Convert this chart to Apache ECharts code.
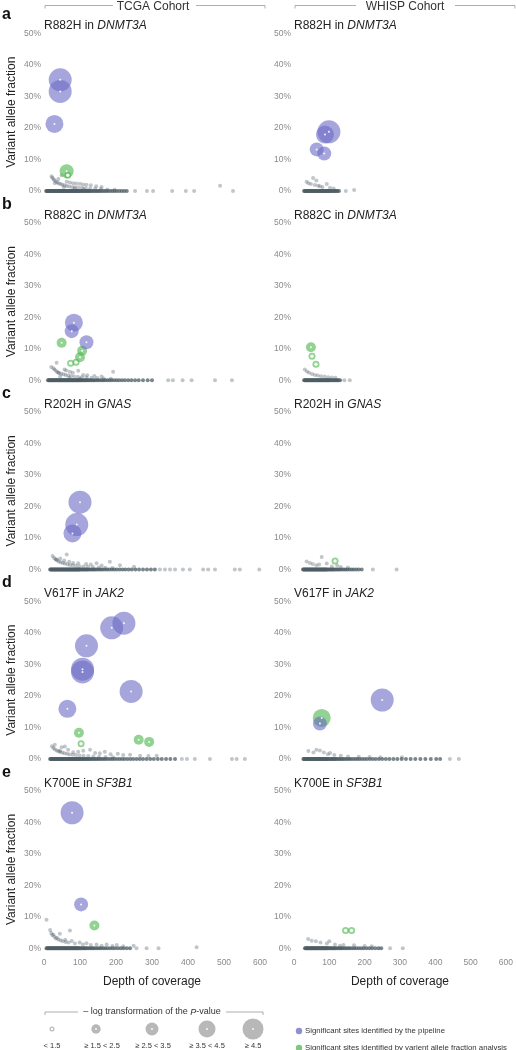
<!DOCTYPE html>
<html><head><meta charset="utf-8">
<script src="https://cdn.jsdelivr.net/npm/echarts@6/dist/echarts.min.js"></script>
<style>html,body{margin:0;padding:0;background:#fff}#c{width:516px;height:1050px}</style>
</head><body><div id="c"></div>
<script>
// ---- data: [depth, VAF %] ; bubbles: [depth, VAF %, p-value class 1..5]
const cohorts = ["TCGA Cohort", "WHISP Cohort"];
const panelLetters = ["a", "b", "c", "d", "e"];
const mutations = ["R882H", "R882C", "R202H", "V617F", "K700E"];
const genes = ["DNMT3A", "DNMT3A", "GNAS", "JAK2", "SF3B1"];
const xTicks = [0, 100, 200, 300, 400, 500, 600];
const pClassLabels = ["< 1.5", "≥ 1.5 < 2.5", "≥ 2.5 < 3.5", "≥ 3.5 < 4.5", "≥ 4.5"];

// TCGA a
const tA_zero = [6,8,10,12,14,16,18,20,22,24,26,28,30,32,34,36,38,40,42,44,46,48,50,52,54,56,58,60,62,64,66,68,70,72,74,76,78,80,82,84,86,88,90,92,94,96,98,100,103,106,109,112,115,118,121,124,127,130,134,138,142,146,150,154,158,163,168,173,178,184,190,196,202,209,216,223,230];
const tA_low = [[253,0],[286,0],[303,0],[356,0],[394,0],[417,0],[525,0],[21,4.7],[23,4.2],[26,3.8],[29,3.4],[33,3.0],[37,2.7],[41,2.4],[46,2.2],[51,2.0],[57,1.8],[63,1.6],[70,1.4],[78,1.3],[86,1.2],[95,1.1],[105,1.0],[116,0.9],[128,0.8],[142,0.7],[158,0.6],[176,0.5],[196,0.4],[49,5.0],[40,3.8],[63,2.9],[72,2.7],[81,2.5],[90,2.4],[100,2.3],[109,2.1],[118,2.0],[130,1.8],[145,1.5],[160,1.3],[489,1.7],[30,2.5],[55,1.2],[85,0.8],[110,0.6]];
const tA_pipe = [[45,35.3,5],[45,31.6,5],[29,21.3,4]];
const tA_vaf = [[63,6.3,3],[66,5.0,1]];
// TCGA b
const tB_zero = [11,13,15,17,19,21,23,25,27,29,31,33,35,37,39,41,43,45,47,49,51,53,55,57,59,61,63,65,67,69,71,73,75,77,79,81,83,85,87,89,91,93,95,97,99,101,104,107,110,113,116,119,122,125,129,133,137,141,145,150,155,160,165,170,176,182,188,195,202,209,217,225,234,243,253,263,275,288,300];
const tB_low = [[345,0],[358,0],[385,0],[410,0],[475,0],[522,0],[20,4.2],[26,3.8],[29,3.4],[33,3.0],[37,2.6],[42,2.3],[48,2.1],[54,1.9],[60,1.7],[67,1.5],[75,1.4],[84,1.2],[94,1.1],[105,1.0],[118,0.9],[132,0.8],[148,0.7],[166,0.6],[186,0.5],[35,5.6],[40,2.4],[57,3.4],[72,2.7],[95,3.0],[109,1.7],[192,2.7],[62,3.1],[80,2.4],[120,1.6],[140,1.4],[160,1.2],[45,1.2],[70,0.8],[100,0.6]];
const tB_pipe = [[83,18.3,4],[77,15.6,3],[118,12.1,3]];
const tB_vaf = [[49,11.9,2],[106,9.4,2],[100,7.3,2],[89,5.7,1],[74,5.4,1]];
// TCGA c
const tC_zero = [17,19,21,23,25,27,29,31,33,35,37,39,41,43,45,47,49,51,53,55,57,59,61,63,65,67,69,71,73,75,77,79,81,83,85,87,89,91,93,95,97,99,102,105,108,111,114,117,120,123,127,131,135,139,143,148,153,158,163,169,175,181,188,195,202,210,218,226,235,244,254,264,275,286,297,308];
const tC_low = [[322,0],[336,0],[350,0],[364,0],[386,0],[405,0],[442,0],[456,0],[475,0],[530,0],[544,0],[598,0],[24,4.3],[28,3.7],[32,3.3],[36,3.0],[41,2.6],[46,2.3],[52,2.1],[58,1.9],[65,1.7],[72,1.5],[80,1.4],[89,1.2],[99,1.1],[110,1.0],[122,0.9],[136,0.8],[152,0.7],[170,0.6],[190,0.5],[63,4.8],[35,3.2],[56,2.9],[81,2.1],[117,1.8],[146,2.0],[183,2.5],[211,1.4],[45,3.5],[70,2.5],[95,2.0],[130,1.6],[160,1.3],[250,0.9]];
const tC_pipe = [[100,21.4,5],[91,14.3,5],[79,11.5,4]];
const tC_vaf = [];
// TCGA d
const tD_zero = [17,19,21,23,25,27,29,31,33,35,37,39,41,43,45,47,49,51,53,55,57,59,61,63,65,67,69,71,73,75,77,79,81,83,85,87,89,91,93,95,97,99,101,104,107,110,113,116,119,122,125,128,132,136,140,144,148,152,157,162,167,172,178,184,190,196,203,210,217,224,232,240,248,257,266,275,285,295,305,316,327,339,351,364];
const tD_low = [[383,0],[397,0],[419,0],[461,0],[522,0],[535,0],[558,0],[22,4.0],[26,3.5],[30,3.1],[35,2.7],[40,2.4],[45,2.2],[51,2.0],[57,1.8],[64,1.6],[71,1.4],[80,1.3],[89,1.2],[99,1.1],[110,1.0],[123,0.9],[137,0.8],[153,0.7],[171,0.6],[192,0.5],[49,3.7],[67,2.9],[81,2.1],[109,2.6],[128,2.9],[142,1.9],[169,2.3],[205,1.6],[239,1.3],[267,1.0],[313,1.0],[58,3.9],[44,2.6],[30,4.5],[95,2.3],[155,1.8],[185,1.5],[220,1.2],[290,0.9]];
const tD_pipe = [[65,15.9,4],[107,28.5,5],[107,27.6,5],[118,35.9,5],[188,41.6,5],[222,43.1,5],[242,21.4,5]];
const tD_vaf = [[97,8.3,2],[103,4.8,1],[263,6.1,2],[292,5.4,2]];
// TCGA e
const tE_zero = [7,9,11,13,15,17,19,21,23,25,27,29,31,33,35,37,39,41,43,45,47,49,51,53,55,57,59,61,63,65,67,69,71,73,75,77,79,81,83,85,87,89,91,93,95,97,100,103,106,109,112,115,118,122,126,130,134,138,143,148,153,158,164,170,176,183,190,197,205,213,221,230,239];
const tE_low = [[257,0],[285,0],[318,0],[424,0.3],[7,9.0],[17,5.8],[72,5.6],[44,4.6],[26,4.3],[36,3.3],[59,2.7],[77,2.3],[99,1.8],[118,1.6],[146,1.2],[174,1.2],[202,1.0],[249,0.8],[20,4.8],[23,4.2],[29,3.6],[33,3.1],[40,2.8],[46,2.5],[52,2.2],[60,2.0],[68,1.8],[86,1.5],[108,1.2],[130,1.0],[160,0.8],[190,0.7],[220,0.6]];
const tE_pipe = [[78,43.0,5],[103,13.9,3]];
const tE_vaf = [[140,7.2,2]];
// WHISP a
const wA_zero = [28,30,32,34,36,38,40,42,44,46,48,50,52,54,56,58,60,62,64,66,68,70,72,74,76,78,80,82,84,86,88,90,92,94,96,98,100,103,106,109,112,115,118,121,125];
const wA_low = [[144,0],[35,2.9],[53,4.1],[62,3.3],[47,2.2],[67,1.7],[79,1.3],[91,2.2],[40,2.5],[58,1.9],[72,1.5],[167,0.3],[100,1.0],[110,0.8]];
const wA_pipe = [[86,17.9,4],[97,18.8,5],[63,13.2,3],[84,11.9,3]];
const wA_vaf = [];
// WHISP b
const wB_zero = [28,30,32,34,36,38,40,42,44,46,48,50,52,54,56,58,60,62,64,66,68,70,72,74,76,78,80,82,84,86,88,90,92,94,96,98,100,103,106,109,112,115,118,121,124,128];
const wB_low = [[140,0],[155,0],[30,3.4],[36,2.8],[42,2.4],[50,2.0],[58,1.7],[66,1.5],[75,1.3],[85,1.2],[95,1.0],[105,0.9],[115,0.8]];
const wB_pipe = [];
const wB_vaf = [[47,10.5,2],[50,7.6,1],[61,5.1,1]];
// WHISP c
const wC_zero = [25,27,29,31,33,35,37,39,41,43,45,47,49,51,53,55,57,59,61,63,65,67,69,71,73,75,77,79,81,83,85,87,89,91,94,97,100,103,106,109,112,116,120,124,128,133,138,143,148,154,160,166,173,180,188];
const wC_low = [[219,0],[285,0],[44,2.1],[77,4.0],[62,1.4],[91,1.9],[35,2.6],[52,1.8],[105,1.0],[130,0.8],[70,1.6],[120,1.3],[150,0.7]];
const wC_pipe = [];
const wC_vaf = [[114,2.7,1]];
// WHISP d
const wD_zero = [26,28,30,32,34,36,38,40,42,44,46,48,50,52,54,56,58,60,62,64,66,68,70,72,74,76,78,80,82,84,86,88,90,92,94,97,100,103,106,109,112,115,118,122,126,130,134,138,143,148,153,158,164,170,176,182,189,196,203,211,219,227,236,245,255,265,276,287,299,311,324,337,351,365,380,395,406];
const wD_low = [[433,0],[458,0],[72,2.7],[83,2.0],[94,1.5],[112,1.2],[54,2.0],[40,2.5],[130,1.0],[150,0.8],[180,0.7],[210,0.6],[62,2.9],[100,1.9],[240,0.5],[300,0.5]];
const wD_pipe = [[72,11.2,3],[245,18.7,5]];
const wD_vaf = [[77,13.0,4]];
// WHISP e
const wE_zero = [31,33,35,37,39,41,43,45,47,49,51,53,55,57,59,61,63,65,67,69,71,73,75,77,79,81,83,85,87,89,91,93,95,97,100,103,106,109,112,115,118,122,126,130,134,138,143,148,153,158,164,170,176,183,190,197,205,213,221,230,239,247];
const wE_low = [[272,0],[308,0],[40,2.9],[62,2.2],[93,1.5],[116,1.2],[50,2.4],[75,1.8],[140,1.0],[170,0.9],[200,0.7],[100,2.2],[130,0.8],[220,0.6]];
const wE_pipe = [];
const wE_vaf = [[146,5.6,1],[163,5.6,1]];

const tcgaPanels = [[tA_zero,tA_low,tA_pipe,tA_vaf],[tB_zero,tB_low,tB_pipe,tB_vaf],[tC_zero,tC_low,tC_pipe,tC_vaf],[tD_zero,tD_low,tD_pipe,tD_vaf],[tE_zero,tE_low,tE_pipe,tE_vaf]];
const whispPanels = [[wA_zero,wA_low,wA_pipe,wA_vaf],[wB_zero,wB_low,wB_pipe,wB_vaf],[wC_zero,wC_low,wC_pipe,wC_vaf],[wD_zero,wD_low,wD_pipe,wD_vaf],[wE_zero,wE_low,wE_pipe,wE_vaf]];

// ---- layout / style
const FONT = "'Liberation Sans', Arial, Helvetica, sans-serif";
const sizeByClass = [0, 7, 10, 14, 18, 23];
const rowTop = [33.5, 222.8, 412.1, 601.4, 790.7];
const rowH = 157.5;
const colLeft = [44, 294];
const colW = 216;
const PURPLE = '#6b6bc4', GREEN = '#4fb64f', GREY = '#4d5d66';

const grids = [], xAxes = [], yAxes = [], series = [];
let gi = 0;
for (let r = 0; r < 5; r++) {
  for (let c = 0; c < 2; c++) {
    grids.push({left: colLeft[c], top: rowTop[r], width: colW, height: rowH});
    const bottom = r === 4;
    xAxes.push({gridIndex: gi, type: 'value', min: 0, max: 600, interval: 100,
      axisLine: {show: false}, axisTick: {show: false}, splitLine: {show: false},
      axisLabel: {show: bottom, color: '#8a8a8a', fontSize: 8.5, fontFamily: FONT, margin: 10},
      name: bottom ? 'Depth of coverage' : '', nameLocation: 'middle', nameGap: 27,
      nameTextStyle: {color: '#222', fontSize: 12, fontFamily: FONT}});
    yAxes.push({gridIndex: gi, type: 'value', min: 0, max: 50, interval: 10,
      axisLine: {show: false}, axisTick: {show: false}, splitLine: {show: false},
      axisLabel: {color: '#8a8a8a', fontSize: 8.5, fontFamily: FONT, margin: 3, formatter: '{value}%'},
      name: c === 0 ? 'Variant allele fraction' : '', nameLocation: 'middle', nameGap: 26, nameRotate: 90,
      nameTextStyle: {color: '#222', fontSize: 12, fontFamily: FONT}});
    const [zero, low, pipe, vaf] = (c === 0 ? tcgaPanels : whispPanels)[r];
    const common = {type: 'scatter', xAxisIndex: gi, yAxisIndex: gi, silent: true, clip: false, animation: false};
    series.push(Object.assign({}, common, {data: zero.map(d => [d, 0]), symbolSize: 4, itemStyle: {color: GREY, opacity: 0.75}}));
    series.push(Object.assign({}, common, {data: low, symbolSize: 4, itemStyle: {color: GREY, opacity: 0.35}}));
    series.push(Object.assign({}, common, {data: vaf, symbolSize: v => sizeByClass[v[2]], itemStyle: {color: GREEN, opacity: 0.62}}));
    series.push(Object.assign({}, common, {data: pipe, symbolSize: v => sizeByClass[v[2]], itemStyle: {color: PURPLE, opacity: 0.6}}));
    series.push(Object.assign({}, common, {data: vaf.concat(pipe), symbolSize: v => v[2] === 1 ? 3.5 : 2, itemStyle: {color: '#ffffff', opacity: 0.9}}));
    gi++;
  }
}

// ---- graphic: headers, titles, legend
const graphic = [];
const headerSpec = [{x1: 45, x2: 265, cx: 153, gap: [113, 196]}, {x1: 295, x2: 515, cx: 405, gap: [356, 455]}];
headerSpec.forEach((h, i) => {
  graphic.push({type: 'polyline', shape: {points: [[h.x1, 8.5], [h.x1, 5.5], [h.gap[0], 5.5]]}, style: {stroke: '#999', lineWidth: 0.8, fill: null}});
  graphic.push({type: 'polyline', shape: {points: [[h.gap[1], 5.5], [h.x2, 5.5], [h.x2, 8.5]]}, style: {stroke: '#999', lineWidth: 0.8, fill: null}});
  graphic.push({type: 'text', x: h.cx, y: 6.5, style: {text: cohorts[i], fill: '#333', font: '12px ' + FONT, textAlign: 'center', textVerticalAlign: 'middle'}});
});
for (let r = 0; r < 5; r++) {
  const ty = rowTop[r] - 7.5;
  graphic.push({type: 'text', x: 2, y: ty - 11, style: {text: panelLetters[r], fill: '#111', font: 'bold 16px ' + FONT, textVerticalAlign: 'middle'}});
  for (let c = 0; c < 2; c++) {
    graphic.push({type: 'text', x: colLeft[c], y: ty, style: {
      text: '{n|' + mutations[r] + ' in }{i|' + genes[r] + '}', textVerticalAlign: 'middle',
      rich: {n: {fontSize: 12, fontFamily: FONT, fill: '#222'}, i: {fontSize: 12, fontFamily: FONT, fontStyle: 'italic', fill: '#222'}}}});
  }
}
// size legend
graphic.push({type: 'polyline', shape: {points: [[45, 1015], [45, 1012], [78, 1012]]}, style: {stroke: '#999', lineWidth: 0.8, fill: null}});
graphic.push({type: 'polyline', shape: {points: [[226, 1012], [263, 1012], [263, 1015]]}, style: {stroke: '#999', lineWidth: 0.8, fill: null}});
graphic.push({type: 'text', x: 152, y: 1012, style: {
  text: '{n|– log transformation of the }{i|P}{n|-value}', textAlign: 'center', textVerticalAlign: 'middle',
  rich: {n: {fontSize: 9, fontFamily: FONT, fill: '#333'}, i: {fontSize: 9, fontFamily: FONT, fontStyle: 'italic', fill: '#333'}}}});
const legX = [52, 96, 152, 207, 253];
const legR = [2.5, 4.7, 6.5, 8.5, 10.5];
legX.forEach((x, i) => {
  graphic.push({type: 'circle', shape: {cx: x, cy: 1029, r: legR[i]}, style: {fill: '#b8b8b8'}});
  graphic.push({type: 'circle', shape: {cx: x, cy: 1029, r: i === 0 ? 1.3 : 0.9}, style: {fill: '#fff'}});
  graphic.push({type: 'text', x: i === 1 ? 102 : (i === 2 ? 153 : x), y: 1046, style: {text: pClassLabels[i], fill: '#333', font: '7.5px ' + FONT, textAlign: 'center', textVerticalAlign: 'middle'}});
});
const colorLegend = [{c: '#8f8fd2', t: 'Significant sites identified by the pipeline', y: 1031}, {c: '#7cc87c', t: 'Significant sites identified by varient allele fraction analysis', y: 1048}];
colorLegend.forEach(l => {
  graphic.push({type: 'circle', shape: {cx: 299, cy: l.y, r: 3.2}, style: {fill: l.c}});
  graphic.push({type: 'text', x: 305, y: l.y, style: {text: l.t, fill: '#333', font: '7.8px ' + FONT, textVerticalAlign: 'middle'}});
});

const chart = echarts.init(document.getElementById('c'), null, {renderer: 'canvas'});
chart.setOption({animation: false, backgroundColor: '#fff', grid: grids, xAxis: xAxes, yAxis: yAxes, series: series, graphic: graphic});
</script></body></html>
